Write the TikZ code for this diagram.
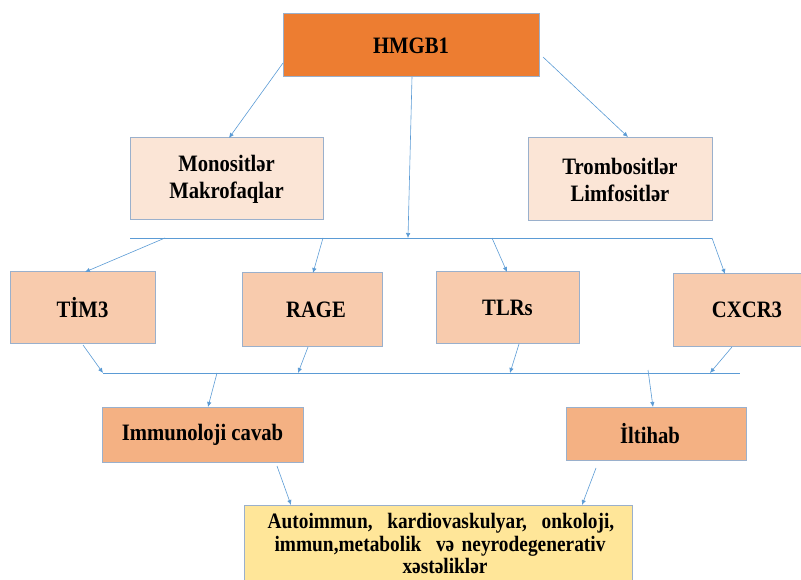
\documentclass[tikz,border=0pt]{standalone}
\usepackage{fontspec}
\setmainfont{Liberation Serif}[FakeStretch=0.88]
\usetikzlibrary{arrows.meta}
\definecolor{hmfill}{HTML}{ED7D31}
\definecolor{cellfill}{HTML}{FBE5D6}
\definecolor{recfill}{HTML}{F8CBAD}
\definecolor{respfill}{HTML}{F4B183}
\definecolor{disfill}{HTML}{FFE699}
\definecolor{edge}{HTML}{9AB0CC}
\definecolor{conn}{HTML}{5B9BD5}
\tikzset{
  box/.style={draw=edge, line width=1pt, inner sep=0pt, align=center,
    font=\fontsize{23.5}{27}\selectfont\bfseries},
  arr/.style={draw=conn, line width=0.6pt, -{Latex[length=5pt,width=4.5pt]}},
  bus/.style={draw=conn, line width=0.6pt},
}
\begin{document}
\begin{tikzpicture}[x=1pt,y=-1pt]
\useasboundingbox (0,0) rectangle (801,580);
\clip (0,0) rectangle (801,580);
% nodes
\node[box, fill=hmfill, minimum width=256, minimum height=63] (hm) at (411,45.5) {\raisebox{-1pt}{HMGB1}};
\node[box, fill=cellfill, minimum width=193, minimum height=82] (mono) at (226.5,179) {Monositlər\\Makrofaqlar};
\node[box, fill=cellfill, minimum width=184, minimum height=83] (trom) at (620,179.5) {Trombositlər\\Limfositlər};
\node[box, fill=recfill, minimum width=145, minimum height=71] (tim) at (82.5,307.5) {TİM3};
\node[box, fill=recfill, minimum width=140, minimum height=73] (rage) at (312,309.5) {\raisebox{-4pt}{\hspace{8pt}RAGE}};
\node[box, fill=recfill, minimum width=143, minimum height=71] (tlr) at (507.5,307.5) {TLRs};
\node[box, fill=recfill, minimum width=148, minimum height=72] (cxcr) at (747,310) {CXCR3};
\node[box, fill=respfill, minimum width=201, minimum height=55] (imm) at (202.5,434.5) {\raisebox{-2pt}{Immunoloji cavab}};
\node[box, fill=respfill, minimum width=180, minimum height=53] (ilt) at (656,433.5) {\hspace{-12pt}İltihab};
\node[box, fill=disfill, anchor=north, minimum width=388, minimum height=0pt, inner ysep=8pt,
  font=\fontsize{22}{22.5}\selectfont\bfseries, align=center, text width=370pt] (dis) at (438,505)
  {\hspace{6pt}Autoimmun,\ \ kardiovaskulyar,\ \ onkoloji,\\ \hspace{4pt}immun,metabolik\ \ və neyrodegenerativ\\ \hspace{14pt}xəstəliklər\par\vspace{14pt}};
% bus coordinates
\coordinate (b1l) at (130,238);
\coordinate (b1r) at (712,238);
\coordinate (b1c) at (408,238);
\coordinate (b1t) at (165,238);
\coordinate (b1g) at (323,238);
\coordinate (b1s) at (492,238);
\coordinate (b2l) at (103,373);
\coordinate (b2r) at (740,373);
\coordinate (b2t) at (103,373);
\coordinate (b2g) at (298,373);
\coordinate (b2s) at (510,373);
\coordinate (b2x) at (710,373);
\coordinate (b2i) at (217,373);
\coordinate (b2h) at (648,370);
% start/end points on boxes
\coordinate (hmL) at (283,63);
\coordinate (hmR) at (543,57);
\coordinate (hmB) at (412,77);
\coordinate (monoT) at (229,138);
\coordinate (tromT) at (628,137);
\coordinate (timT) at (85,272);
\coordinate (rageT) at (313,273);
\coordinate (tlrT) at (507,272);
\coordinate (cxT) at (725,274);
\coordinate (timB) at (83,345);
\coordinate (rageB) at (308,347);
\coordinate (tlrB) at (519,344);
\coordinate (cxB) at (732,347);
\coordinate (immT) at (208,407);
\coordinate (iltT) at (653,407);
\coordinate (immB) at (277,466);
\coordinate (iltB) at (596,468);
\coordinate (disL) at (291,505);
\coordinate (disR) at (582,505);
% connectors
\draw[arr] (hmL) -- (monoT);
\draw[arr] (hmR) -- (tromT);
\draw[arr] (hmB) -- (b1c);
\draw[bus] (b1l) -- (b1r);
\draw[arr] (b1t) -- (timT);
\draw[arr] (b1g) -- (rageT);
\draw[arr] (b1s) -- (tlrT);
\draw[arr] (b1r) -- (cxT);
\draw[bus] (b2l) -- (b2r);
\draw[arr] (timB) -- (b2t);
\draw[arr] (rageB) -- (b2g);
\draw[arr] (tlrB) -- (b2s);
\draw[arr] (cxB) -- (b2x);
\draw[arr] (b2i) -- (immT);
\draw[arr] (b2h) -- (iltT);
\draw[arr] (immB) -- (disL);
\draw[arr] (iltB) -- (disR);
\end{tikzpicture}
\end{document}
